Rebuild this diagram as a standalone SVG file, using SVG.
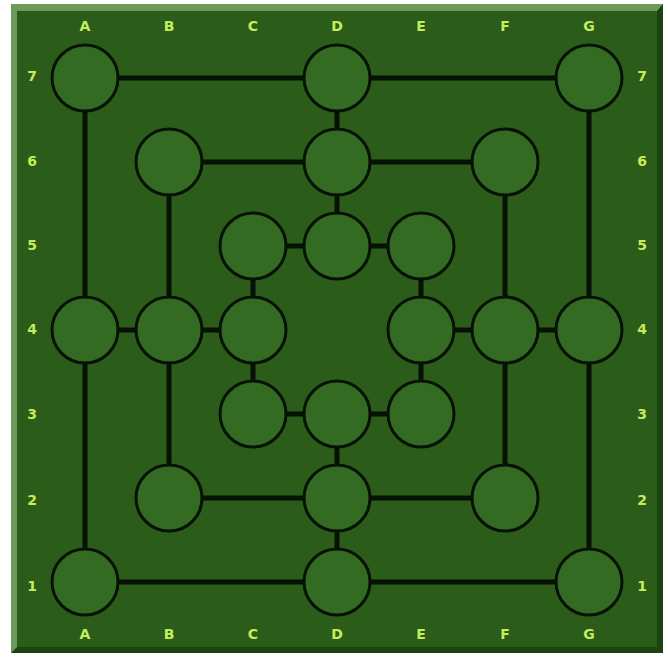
<svg xmlns="http://www.w3.org/2000/svg" width="668" height="658" viewBox="0 0 668 658">
<style>
.lbl{font-family:"DejaVu Sans",sans-serif;font-weight:bold;font-size:14px;fill:#c4ec5c;text-anchor:middle;dominant-baseline:central}
.ln{stroke:#061204;stroke-width:5;fill:none;stroke-linecap:butt}
.pt{fill:#336b22;stroke:#061204;stroke-width:3}
</style>
<rect x="0" y="0" width="668" height="658" fill="#ffffff"/>
<polygon points="11,4 663,4 663,653 11,653" fill="#1c4410"/>
<polygon points="11,4 663,4 657,11 17,11 17,647 11,653" fill="#6c9a5c"/>
<rect x="17" y="11" width="640" height="636" fill="#2b5c1a"/>
<g id="labels">
<text class="lbl" x="85" y="26">A</text><text class="lbl" x="169" y="26">B</text><text class="lbl" x="253" y="26">C</text><text class="lbl" x="337" y="26">D</text><text class="lbl" x="421" y="26">E</text><text class="lbl" x="505" y="26">F</text><text class="lbl" x="589" y="26">G</text>
<text class="lbl" x="85" y="634">A</text><text class="lbl" x="169" y="634">B</text><text class="lbl" x="253" y="634">C</text><text class="lbl" x="337" y="634">D</text><text class="lbl" x="421" y="634">E</text><text class="lbl" x="505" y="634">F</text><text class="lbl" x="589" y="634">G</text>
<text class="lbl" x="32" y="76">7</text><text class="lbl" x="32" y="161">6</text><text class="lbl" x="32" y="245">5</text><text class="lbl" x="32" y="329">4</text><text class="lbl" x="32" y="414">3</text><text class="lbl" x="32" y="500">2</text><text class="lbl" x="32" y="586">1</text>
<text class="lbl" x="642" y="76">7</text><text class="lbl" x="642" y="161">6</text><text class="lbl" x="642" y="245">5</text><text class="lbl" x="642" y="329">4</text><text class="lbl" x="642" y="414">3</text><text class="lbl" x="642" y="500">2</text><text class="lbl" x="642" y="586">1</text>
</g>
<g id="connectors">
<rect class="ln" x="85" y="78" width="504" height="504"/>
<rect class="ln" x="169" y="162" width="336" height="336"/>
<rect class="ln" x="253" y="246" width="168" height="168"/>
<line class="ln" x1="337" y1="78" x2="337" y2="246"/>
<line class="ln" x1="337" y1="414" x2="337" y2="582"/>
<line class="ln" x1="85" y1="330" x2="253" y2="330"/>
<line class="ln" x1="421" y1="330" x2="589" y2="330"/>
</g>
<g id="A7"><circle class="pt" cx="85" cy="78" r="33"/></g>
<g id="D7"><circle class="pt" cx="337" cy="78" r="33"/></g>
<g id="G7"><circle class="pt" cx="589" cy="78" r="33"/></g>
<g id="B6"><circle class="pt" cx="169" cy="162" r="33"/></g>
<g id="D6"><circle class="pt" cx="337" cy="162" r="33"/></g>
<g id="F6"><circle class="pt" cx="505" cy="162" r="33"/></g>
<g id="C5"><circle class="pt" cx="253" cy="246" r="33"/></g>
<g id="D5"><circle class="pt" cx="337" cy="246" r="33"/></g>
<g id="E5"><circle class="pt" cx="421" cy="246" r="33"/></g>
<g id="A4"><circle class="pt" cx="85" cy="330" r="33"/></g>
<g id="B4"><circle class="pt" cx="169" cy="330" r="33"/></g>
<g id="C4"><circle class="pt" cx="253" cy="330" r="33"/></g>
<g id="E4"><circle class="pt" cx="421" cy="330" r="33"/></g>
<g id="F4"><circle class="pt" cx="505" cy="330" r="33"/></g>
<g id="G4"><circle class="pt" cx="589" cy="330" r="33"/></g>
<g id="C3"><circle class="pt" cx="253" cy="414" r="33"/></g>
<g id="D3"><circle class="pt" cx="337" cy="414" r="33"/></g>
<g id="E3"><circle class="pt" cx="421" cy="414" r="33"/></g>
<g id="B2"><circle class="pt" cx="169" cy="498" r="33"/></g>
<g id="D2"><circle class="pt" cx="337" cy="498" r="33"/></g>
<g id="F2"><circle class="pt" cx="505" cy="498" r="33"/></g>
<g id="A1"><circle class="pt" cx="85" cy="582" r="33"/></g>
<g id="D1"><circle class="pt" cx="337" cy="582" r="33"/></g>
<g id="G1"><circle class="pt" cx="589" cy="582" r="33"/></g>
</svg>
